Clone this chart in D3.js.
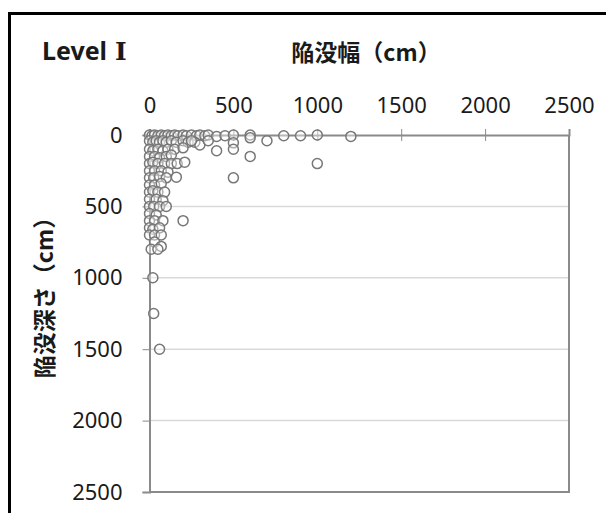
<!DOCTYPE html>
<html>
<head>
<meta charset="utf-8">
<script src="https://cdn.jsdelivr.net/npm/d3@7"></script>
<style>
  html, body { margin: 0; padding: 0; background: #fff; }
  svg { display: block; }
  text { font-family: "Noto Sans", "Noto Sans CJK JP", sans-serif; fill: #1a1a1a; }
  .jp { font-family: "Noto Sans CJK JP", sans-serif; font-weight: 700; }
</style>
</head>
<body>
<svg id="chart" width="606" height="513"></svg>
<script>
// Sinkhole width (cm) and depth (cm) for Level I observations
const widths = [
  0, 15, 30, 50, 70, 90, 110, 130, 150, 170, 200, 220, 250, 280, 300, 330, 350, 400, 450, 500, 600, 800, 900, 1000, 1200,
  0, 20, 40, 60, 80, 100, 130, 160, 200, 230, 270, 300, 350, 400, 500, 500, 600, 700, 250,
  0, 20, 50, 80, 110, 150, 200,
  0, 30, 60, 100, 130, 600,
  0, 20, 50, 90, 130, 165, 210, 1000,
  0, 30, 70, 110,
  0, 25, 60, 100, 160, 500,
  0, 30, 70,
  0, 20, 50, 90,
  0, 40, 80,
  0, 25, 60, 100,
  0, 40,
  0, 30, 80, 200,
  0, 20, 60,
  0, 30, 70, 30, 70, 10, 50,
  20, 25, 60
];
const depths = [
  0, 5, 0, 5, 0, 5, 0, 5, 0, 5, 0, 5, 0, 5, 0, 5, 0, 10, 5, 0, 0, 5, 5, 0, 10,
  40, 50, 40, 50, 40, 50, 40, 50, 40, 50, 50, 70, 40, 110, 55, 100, 20, 40, 40,
  100, 110, 100, 110, 100, 100, 90,
  150, 150, 160, 150, 140, 150,
  200, 190, 200, 200, 200, 200, 190, 200,
  250, 250, 250, 260,
  300, 300, 290, 300, 295, 300,
  350, 350, 340,
  400, 390, 400, 400,
  450, 450, 460,
  500, 500, 500, 500,
  550, 560,
  600, 600, 600, 600,
  650, 660, 650,
  700, 700, 700, 750, 780, 800, 800,
  1000, 1250, 1500
];
const xTicks = [0, 500, 1000, 1500, 2000, 2500];
const yTicks = [0, 500, 1000, 1500, 2000, 2500];
const panelLabel = "Level";
const panelNumeral = "\u2160";
const xTitle = "陥没幅（cm）";
const yTitle = "陥没深さ（cm）";

const svg = d3.select("#chart");
const plot = { left: 149.5, right: 569, top: 135, bottom: 492 };

const x = d3.scaleLinear().domain([0, 2500]).range([plot.left, plot.right]);
const y = d3.scaleLinear().domain([0, 2500]).range([plot.top, plot.bottom]);
const fmt = d3.format("d");

// outer frame (continues past right and bottom edges)
svg.append("rect")
  .attr("x", 9.5).attr("y", 13.5)
  .attr("width", 700).attr("height", 600)
  .attr("fill", "none").attr("stroke", "#000").attr("stroke-width", 3);

// horizontal gridlines
svg.append("g")
  .selectAll("line")
  .data(yTicks.filter(d => d > 0 && d < 2500))
  .join("line")
  .attr("x1", plot.left).attr("x2", plot.right)
  .attr("y1", d => y(d)).attr("y2", d => y(d))
  .attr("stroke", "#d9d9d9").attr("stroke-width", 1.5);

// right and bottom plot borders
svg.append("path")
  .attr("d", `M${plot.right},${plot.top}V${plot.bottom}H${plot.left}`)
  .attr("fill", "none").attr("stroke", "#8a8a8a").attr("stroke-width", 2);

// top x axis
const xAxis = svg.append("g")
  .attr("transform", `translate(0,${plot.top})`)
  .call(d3.axisTop(x).tickValues(xTicks).tickFormat(fmt).tickSize(6).tickPadding(16));
xAxis.select(".domain").attr("stroke", "#8a8a8a").attr("stroke-width", 2);
xAxis.selectAll(".tick line").attr("stroke", "#8a8a8a").attr("y2", -6).attr("y1", 6);
xAxis.selectAll(".tick text").attr("font-size", 22).attr("fill", "#1a1a1a")
  .attr("font-family", "'Noto Sans', sans-serif");

// left y axis
const yAxis = svg.append("g")
  .attr("transform", `translate(${plot.left},0)`)
  .call(d3.axisLeft(y).tickValues(yTicks).tickFormat(fmt).tickSize(7).tickPadding(20));
yAxis.select(".domain").attr("stroke", "#8a8a8a").attr("stroke-width", 2);
yAxis.selectAll(".tick line").attr("stroke", "#8a8a8a");
yAxis.selectAll(".tick text").attr("font-size", 22).attr("fill", "#1a1a1a")
  .attr("font-family", "'Noto Sans', sans-serif");

// observations
const points = widths.map((w, i) => ({ w, d: depths[i] }));
svg.append("g")
  .selectAll("circle")
  .data(points)
  .join("circle")
  .attr("cx", p => x(p.w))
  .attr("cy", p => y(p.d))
  .attr("r", 5)
  .attr("fill", "#fff").attr("fill-opacity", 0.4)
  .attr("stroke", "#777").attr("stroke-width", 1.5);

// titles
const panel = svg.append("text")
  .attr("x", 42).attr("y", 60)
  .attr("font-size", 25).attr("font-weight", 700);
panel.append("tspan").text(panelLabel);
panel.append("tspan")
  .attr("dx", 8)
  .attr("font-family", "'DejaVu Serif', serif")
  .text(panelNumeral);

svg.append("text")
  .attr("class", "jp")
  .attr("x", 366).attr("y", 61)
  .attr("text-anchor", "middle")
  .attr("font-size", 23)
  .text(xTitle);

svg.append("text")
  .attr("class", "jp")
  .attr("transform", "translate(53,292) rotate(-90)")
  .attr("text-anchor", "middle")
  .attr("font-size", 23)
  .text(yTitle);
</script>
</body>
</html>
